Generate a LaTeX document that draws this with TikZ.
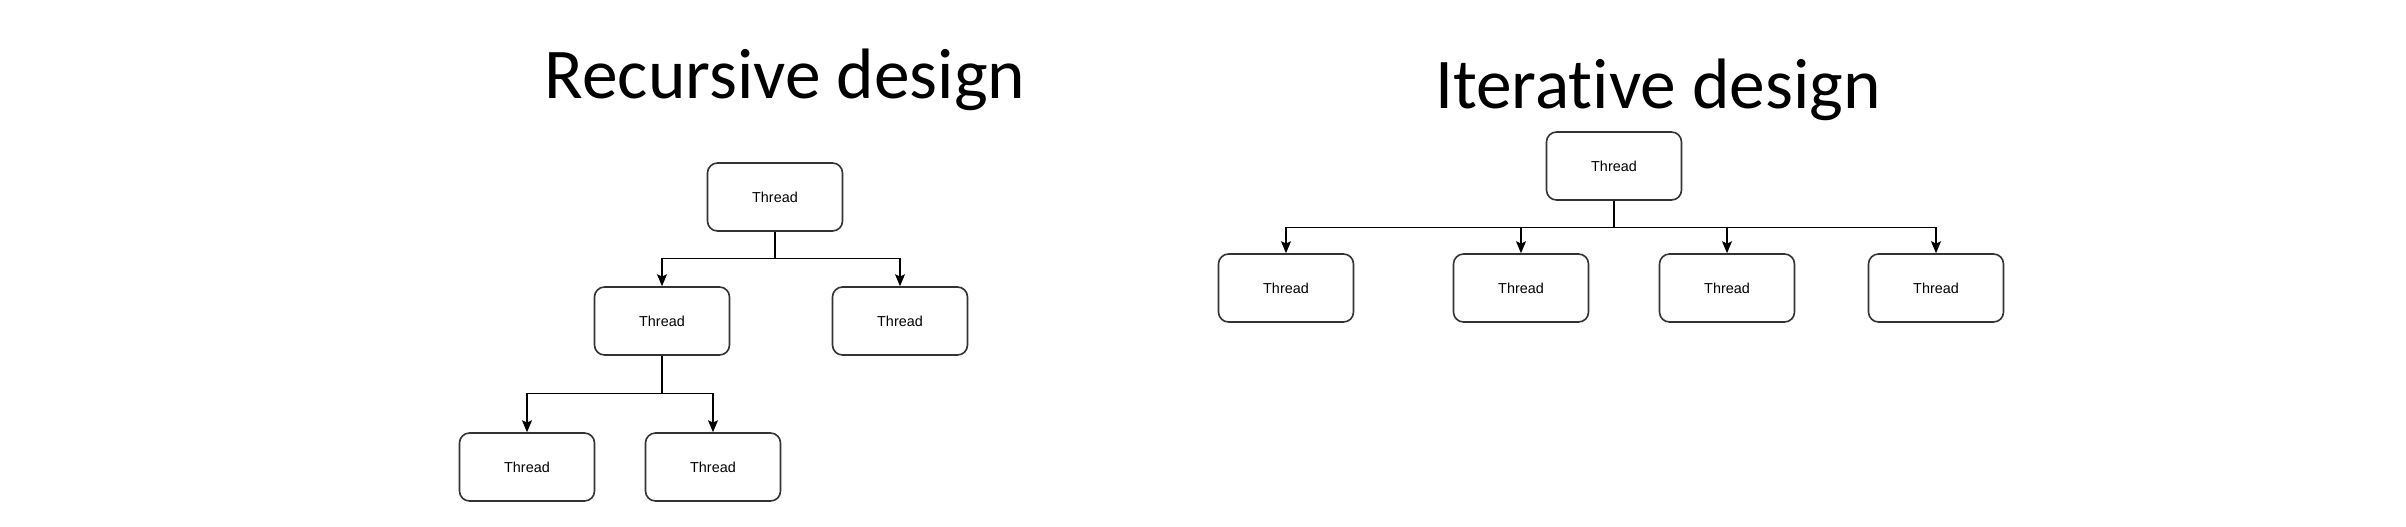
\documentclass[tikz,border=0pt]{standalone}
\usepackage{fontspec}
\setmainfont{Liberation Sans}
\newfontfamily\titlefont[Ligatures=NoCommon]{Carlito}
\usetikzlibrary{arrows.meta}

\begin{document}
\begin{tikzpicture}[x=0.5pt,y=-0.5pt,
  thread/.style={draw=black!80,line width=0.8pt,rounded corners=5pt,minimum width=67.5pt,minimum height=34pt,font=\fontsize{7.2}{8}\selectfont},
  link/.style={line width=0.65pt,-{Stealth[length=6pt,width=5pt,inset=1.2pt]}},
  heading/.style={font=\titlefont\fontsize{35.7}{40}\selectfont,anchor=base}]
\useasboundingbox (0,0) rectangle (2406,526);
% recursive design
\node [heading] (rtitle) at (785,98) {Recursive design};
\node [thread] (rroot) at (775,197) {Thread};
\node [thread] (rleft) at (662,321) {Thread};
\node [thread] (rright) at (900,321) {Thread};
\node [thread] (rll) at (527,467) {Thread};
\node [thread] (rlr) at (713,467) {Thread};
\foreach \c in {rleft,rright}
  \draw [link] (rroot.south) -- ++(0,27) -| (\c);
\foreach \c in {rll,rlr}
  \draw [link] (rleft.south) -- ++(0,38) -| (\c);
% iterative design
\node [heading] (ititle) at (1658,108) {Iterative design};
\node [thread] (iroot) at (1614,166) {Thread};
\node [thread] (ione) at (1286,288) {Thread};
\node [thread] (itwo) at (1521,288) {Thread};
\node [thread] (ithree) at (1727,288) {Thread};
\node [thread] (ifour) at (1936,288) {Thread};
\foreach \c in {ione,itwo,ithree,ifour}
  \draw [link] (iroot.south) -- ++(0,27) -| (\c);
\end{tikzpicture}
\end{document}
